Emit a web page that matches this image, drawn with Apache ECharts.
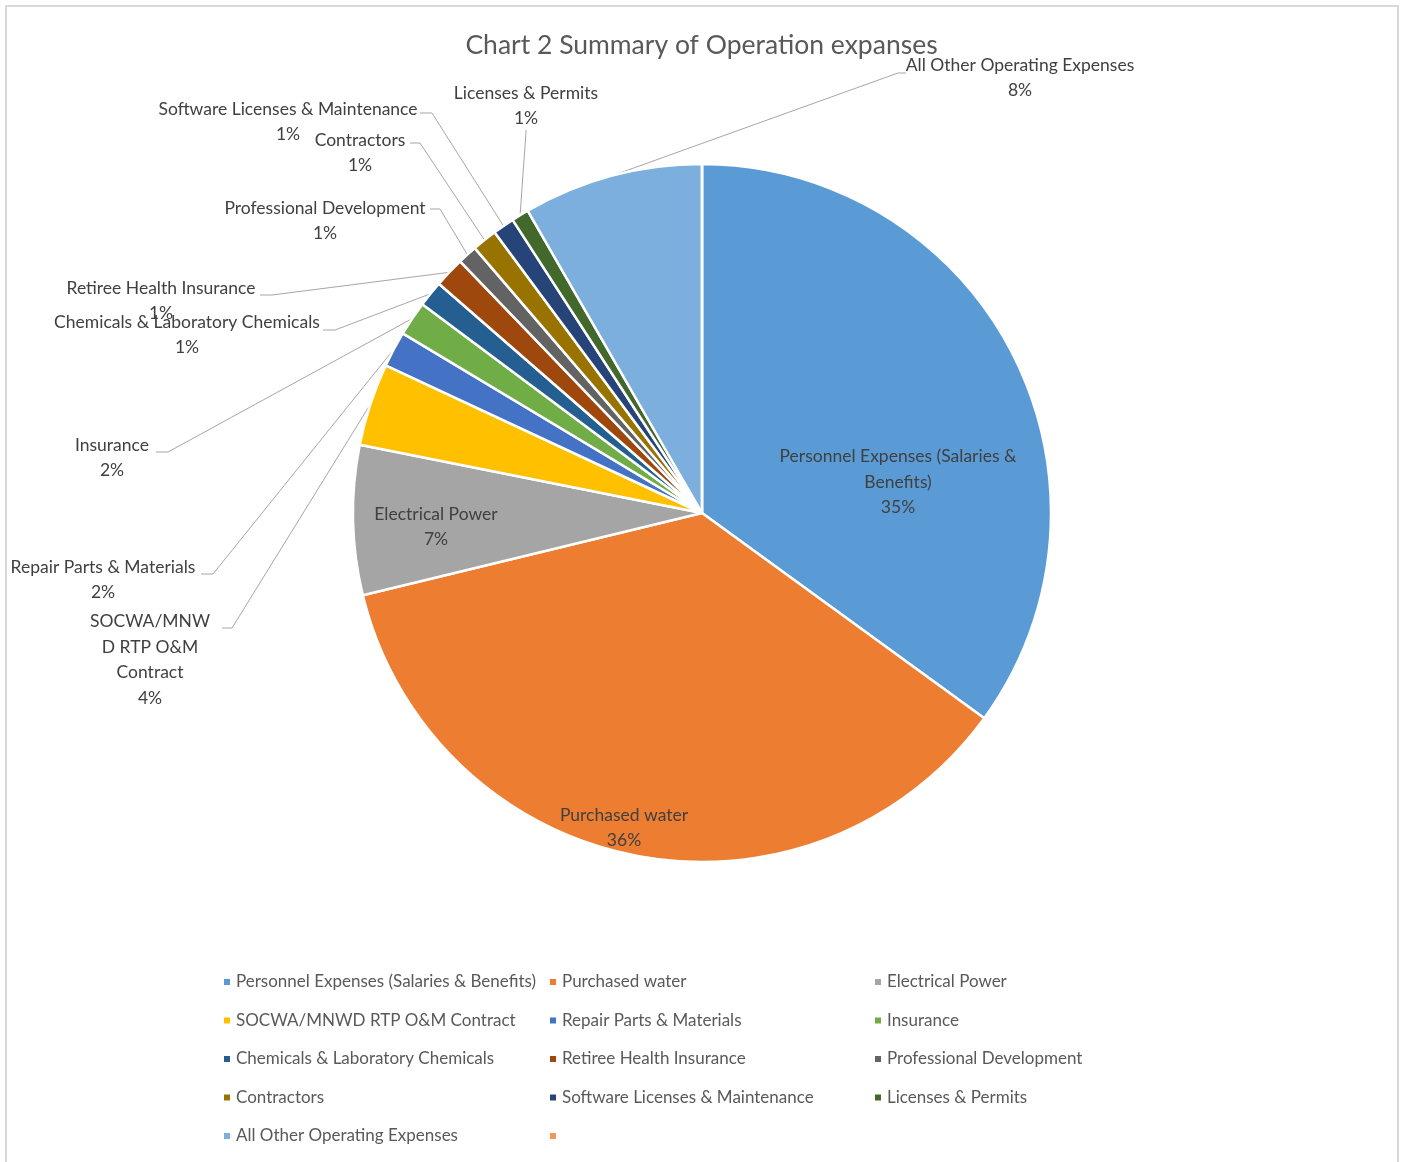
<!DOCTYPE html>
<html>
<head>
<meta charset="utf-8">
<script src="https://cdn.jsdelivr.net/npm/echarts@6/dist/echarts.min.js"></script>
<style>
  html, body { margin: 0; padding: 0; background: #fff; }
  #wrap { position: relative; width: 1403px; height: 1162px; overflow: hidden; }
  #chart { position: absolute; left: 0; top: 0; width: 1403px; height: 1162px; }
  #frame { position: absolute; left: 5px; top: 5px; width: 1390px; height: 1300px;
           border-left: 2px solid #d9d9d9; border-top: 2px solid #d9d9d9; border-right: 2px solid #d9d9d9;
           pointer-events: none; }
</style>
</head>
<body>
<div id="wrap"><div id="chart"></div><div id="frame"></div></div>
<script>
// ---- data ----
const titleText = 'Chart 2 Summary of Operation expanses';
const categories = [
  'Personnel Expenses (Salaries & Benefits)',
  'Purchased water',
  'Electrical Power',
  'SOCWA/MNWD RTP O&M Contract',
  'Repair Parts & Materials',
  'Insurance',
  'Chemicals & Laboratory Chemicals',
  'Retiree Health Insurance',
  'Professional Development',
  'Contractors',
  'Software Licenses & Maintenance',
  'Licenses & Permits',
  'All Other Operating Expenses',
  ' '
];
const values = [34.9, 36.1, 6.9, 3.8, 1.65, 1.6, 1.2, 1.4, 0.9, 1.15, 1.0, 0.8, 8.3, 0];
const colors = ['#5B9BD5', '#ED7D31', '#A5A5A5', '#FFC000', '#4472C4', '#70AD47',
                '#255E91', '#9E480E', '#636363', '#997300', '#264478', '#43682B', '#7CAFDD', '#F1975A'];
// label text wrapping as in the reference
const wrappedNames = {
  0: 'Personnel Expenses (Salaries &\nBenefits)',
  3: 'SOCWA/MNW\nD RTP O&M\nContract'
};
const insideIdx = [0, 1, 2];

// ---- layout (label placement) ----
const labelPlace = {
  0: { x: 898, y: 482 },
  1: { x: 624, y: 828 },
  2: { x: 436, y: 527 },
  3: { x: 150, y: 660, pts: [[232, 628], [222, 628]] },
  4: { x: 103, y: 580, pts: [[213, 574], [201, 574]] },
  5: { x: 112, y: 458, pts: [[168, 452], [156, 452]] },
  6: { x: 187, y: 335, pts: [[335, 330], [323, 330]] },
  7: { x: 161, y: 301, pts: [[272, 295], [260, 295]] },
  8: { x: 325, y: 221, pts: [[440, 209], [430, 209]] },
  9: { x: 360, y: 153, pts: [[420, 143], [410, 143]] },
  10: { x: 288, y: 122, pts: [[432, 113], [420, 113]] },
  11: { x: 526, y: 106, pts: [[526, 132], [526, 130]] },
  12: { x: 1020, y: 78, pts: [[898, 73], [906, 73]] }
};

const pieData = categories.map((name, i) => {
  const item = { name: name, value: values[i], itemStyle: { color: colors[i] } };
  if (insideIdx.indexOf(i) >= 0) {
    item.label = { position: 'inside' };
    item.labelLine = { show: false };
  }
  if (name.trim() === '') {
    item.label = { show: false };
    item.labelLine = { show: false };
  }
  return item;
});

const legendCommon = {
  orient: 'vertical',
  top: 972,
  padding: 0,
  icon: 'rect',
  itemWidth: 8,
  itemHeight: 8,
  itemGap: 18.5,
  selectedMode: false,
  textStyle: { fontFamily: 'Lato', fontSize: 17, color: '#595959', lineHeight: 20 }
};
const legendCols = [[0, 3, 6, 9, 12], [1, 4, 7, 10, 13], [2, 5, 8, 11]];
const legendLefts = [222, 548, 873];

const chart = echarts.init(document.getElementById('chart'), null, { renderer: 'canvas' });
chart.setOption({
  animation: false,
  backgroundColor: '#ffffff',
  title: {
    text: titleText,
    left: 'center',
    top: 27,
    textStyle: { fontFamily: 'Lato', fontSize: 26.5, fontWeight: 'normal', color: '#595959' }
  },
  legend: legendCols.map((col, k) => Object.assign({}, legendCommon, {
    left: legendLefts[k],
    data: col.map(i => categories[i])
  })),
  series: [{
    type: 'pie',
    center: [702, 513],
    radius: 349,
    startAngle: 90,
    clockwise: true,
    avoidLabelOverlap: false,
    emphasis: { disabled: true },
    itemStyle: { borderColor: '#ffffff', borderWidth: 2.5 },
    label: {
      show: true,
      fontFamily: 'Lato',
      fontSize: 17.5,
      color: '#404040',
      lineHeight: 25.5,
      align: 'center',
      overflow: 'none',
      formatter: p => (wrappedNames[p.dataIndex] || p.name) + '\n' + Math.round(p.percent) + '%'
    },
    labelLine: {
      show: true,
      length: 20,
      length2: 10,
      lineStyle: { color: '#a6a6a6', width: 1 }
    },
    labelLayout: function (params) {
      const L = labelPlace[params.dataIndex];
      if (!L) return {};
      const out = { x: L.x, y: L.y, align: 'center', verticalAlign: 'middle' };
      if (L.pts && params.labelLinePoints && params.labelLinePoints.length) {
        out.labelLinePoints = [params.labelLinePoints[0], L.pts[0], L.pts[1]];
      }
      return out;
    },
    data: pieData
  }]
});
</script>
</body>
</html>
